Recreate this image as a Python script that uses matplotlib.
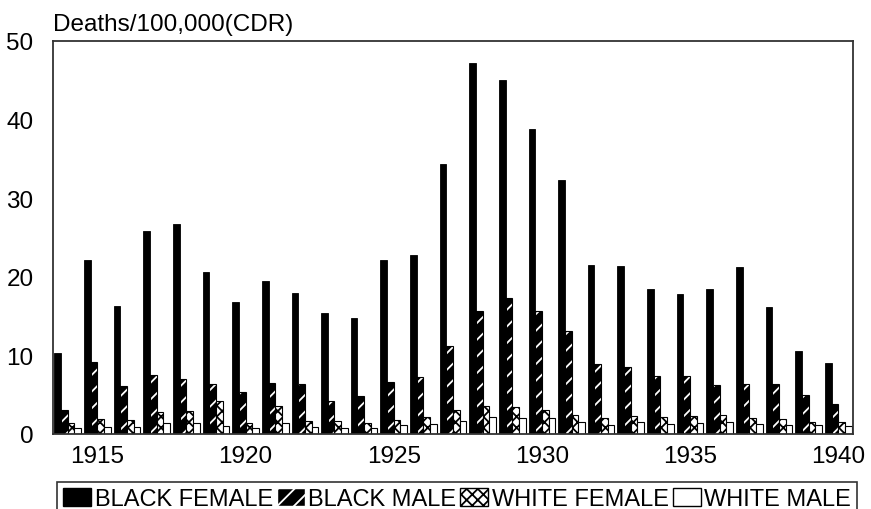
import numpy as np
import matplotlib
matplotlib.use("Agg")
import matplotlib.pyplot as plt
from matplotlib.patches import Patch

plt.rcParams['font.family'] = ['Liberation Sans', 'DejaVu Sans']
plt.rcParams['hatch.linewidth'] = 1.3

# 数据
years = list(range(1914, 1941))
black_female = [10.3, 22.1, 16.3, 25.8, 26.7, 20.6, 16.8, 19.5, 18.0, 15.4, 14.8,
                22.1, 22.8, 34.4, 47.2, 45.0, 38.8, 32.3, 21.5, 21.4, 18.5, 17.8,
                18.5, 21.3, 16.2, 10.5, 9.0]
black_male = [3.1, 9.1, 6.1, 7.5, 7.0, 6.4, 5.3, 6.5, 6.4, 4.2, 4.8,
              6.6, 7.2, 11.2, 15.6, 17.3, 15.6, 13.1, 8.9, 8.5, 7.4, 7.4,
              6.2, 6.4, 6.3, 4.9, 3.8]
white_female = [1.4, 1.9, 1.8, 2.8, 2.9, 4.2, 1.4, 3.6, 1.6, 1.6, 1.4,
                1.8, 2.1, 3.0, 3.6, 3.4, 3.1, 2.4, 2.0, 2.3, 2.2, 2.3,
                2.4, 2.0, 1.9, 1.5, 1.5]
white_male = [0.7, 0.9, 0.9, 1.4, 1.4, 1.0, 0.7, 1.4, 0.9, 0.8, 0.8,
              1.1, 1.3, 1.6, 2.1, 2.0, 2.0, 1.5, 1.2, 1.5, 1.3, 1.4,
              1.5, 1.3, 1.2, 1.1, 1.0]
labels = ['BLACK FEMALE', 'BLACK MALE', 'WHITE FEMALE', 'WHITE MALE']
xticks = [1915, 1920, 1925, 1930, 1935, 1940]
yticks = [0, 10, 20, 30, 40, 50]


def main():
    fig = plt.figure(figsize=(8.71, 5.10), dpi=100)
    ax = fig.add_axes([53 / 871, 1 - 435 / 510, 800 / 871, 393 / 510])

    x = np.array(years)
    w = 0.225

    # 四组柱子
    ax.bar(x - 1.5 * w, black_female, w, color='black', edgecolor='black', linewidth=0.6)
    ax.bar(x - 0.5 * w, black_male, w, color='black', edgecolor='white', hatch='//', linewidth=0)
    ax.bar(x - 0.5 * w, black_male, w, fill=False, edgecolor='black', linewidth=0.8)
    ax.bar(x + 0.5 * w, white_female, w, color='white', edgecolor='black', hatch='xxx', linewidth=0.8)
    ax.bar(x + 1.5 * w, white_male, w, color='white', edgecolor='black', linewidth=0.8)

    ax.set_xlim(1913.5, 1940.5)
    ax.set_ylim(0, 50)
    ax.set_xticks(xticks)
    ax.set_yticks(yticks)
    ax.tick_params(axis='both', length=0, labelsize=17.5)
    ax.tick_params(axis='y', pad=14)
    ax.tick_params(axis='x', pad=8)
    for s in ax.spines.values():
        s.set_linewidth(1.3)
        s.set_color('#333333')

    fig.text(53 / 871, 1 - 31 / 510, 'Deaths/100,000(CDR)', fontsize=17.5, va='baseline', ha='left')

    handles = [
        Patch(facecolor='black', edgecolor='black'),
        Patch(facecolor='black', edgecolor='white', hatch='//'),
        Patch(facecolor='white', edgecolor='black', hatch='xxx'),
        Patch(facecolor='white', edgecolor='black'),
    ]
    leg = fig.legend(handles, labels, ncol=4, loc='upper left',
                     bbox_to_anchor=(57 / 871, 1 - 483 / 510),
                     fontsize=17, frameon=True, fancybox=False,
                     handlelength=1.2, handleheight=0.8, handletextpad=0.15,
                     columnspacing=0.15, borderpad=0.25, borderaxespad=0)
    leg.get_frame().set_edgecolor('black')
    leg.get_frame().set_linewidth(1.2)

    fig.savefig('out.png', dpi=100)


if __name__ == "__main__":
    main()
